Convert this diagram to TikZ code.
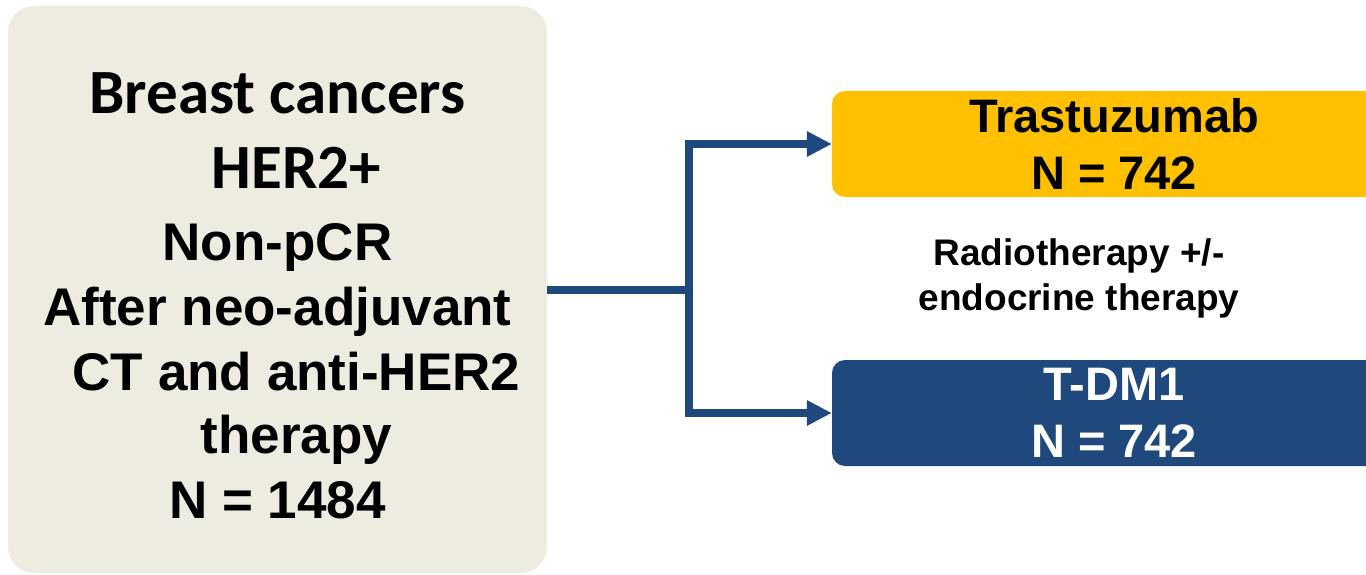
\documentclass[tikz,border=0pt]{standalone}
\usepackage{fontspec}
\setmainfont{Liberation Sans}
\newfontfamily\calibfont{Carlito}
\usetikzlibrary{arrows.meta}
\definecolor{tanbg}{HTML}{EEECE1}
\definecolor{armyellow}{HTML}{FFC000}
\definecolor{armblue}{HTML}{1F497D}
\newcommand\calibline{\fontsize{63}{75}\calibfont}

\begin{document}
\begin{tikzpicture}[x=1pt, y=-1pt, >={Triangle[length=25pt,width=24pt]},
    cohortbox/.style={fill=tanbg, rounded corners=26pt, inner sep=0pt, minimum width=539pt, minimum height=567pt, align=center, font=\bfseries\fontsize{53}{64}\selectfont},
    armbox/.style={rounded corners=13pt, inner sep=0pt, minimum width=564pt, minimum height=106pt, align=center, font=\bfseries\fontsize{47}{57}\selectfont},
    link/.style={draw=armblue, line width=8pt}]
        \useasboundingbox (0,0) rectangle (1366,575);

        % left: study population
        \node[cohortbox] (cohort) at (277.5,289.5) {\rule{0pt}{52.6pt}\calibline Breast cancers\\[11pt]
            \calibline\hspace*{38pt}HER2+\\[8pt]
            Non-pCR\\[1pt]
            After neo-adjuvant\\[1pt]
            \hspace*{38pt}CT and anti-HER2\\[-1pt]
            \hspace*{38pt}therapy\\[1pt]
            N = 1484};

        % right: the two arms
        \node[armbox, fill=armyellow] (trast) at (1114,144) {Trastuzumab\\N = 742};
        \node[armbox, fill=armblue, text=white] (tdm1) at (1114,413) {T-DM1\\N = 742};
        \node[font=\bfseries\fontsize{37}{45}\selectfont, align=center] (note) at (1079,278) {Radiotherapy +/-\\endocrine therapy};

        \coordinate (split) at (689,291);
        \draw[link] (cohort.east) -- (cohort.east -| split);
        \draw[link, <->] (trast.west) -| (split) |- (tdm1.west);
\end{tikzpicture}
\end{document}
